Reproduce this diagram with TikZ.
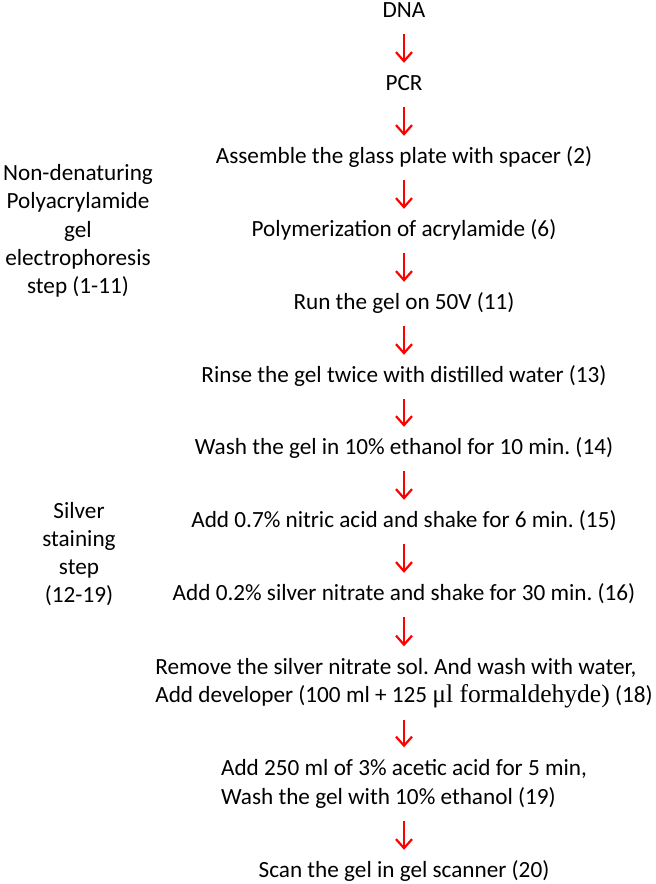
\documentclass[tikz,border=0pt]{standalone}
\usepackage{fontspec}
\setmainfont{Carlito}
\newfontfamily\formfont{Liberation Serif}[Scale=1.1]
\usetikzlibrary{arrows.meta}
\frenchspacing

\begin{document}
\begin{tikzpicture}[x=1pt, y=-1pt,
	every node/.style={font=\fontsize{23.2}{28.3}\selectfont},
	stage/.style={inner sep=0pt, minimum height=44pt, text height=16pt, text depth=5pt},
	twoline/.style={align=left, inner sep=0pt, minimum height=73pt},
	phase/.style={align=center, inner sep=0pt},
	flow/.style={draw=red, line width=2.2pt, -{Straight Barb[length=9pt, width=16pt]}}]
	\useasboundingbox (0,0) rectangle (656,884);

	\node [stage] (1) at (404,12) {DNA};
	\node [stage] (2) at (404,85) {PCR};
	\node [stage] (3) at (404,158) {Assemble the glass plate with spacer (2)};
	\node [stage] (4) at (404,231) {Polymerization of acrylamide (6)};
	\node [stage] (5) at (404,304) {Run the gel on 50V (11)};
	\node [stage] (6) at (404,377) {Rinse the gel twice with distilled water (13)};
	\node [stage] (7) at (404,449) {Wash the gel in 10\% ethanol for 10 min. (14)};
	\node [stage] (8) at (404,522) {Add 0.7\% nitric acid and shake for 6 min. (15)};
	\node [stage] (9) at (404,595) {Add 0.2\% silver nitrate and shake for 30 min. (16)};
	\node [twoline] (10) at (404,683) {Remove the silver nitrate sol. And wash with water,\\
		Add developer (100 ml + 125 {\formfont μl formaldehyde)} (18)};
	\node [twoline] (11) at (404,784) {Add 250 ml of 3\% acetic acid for 5 min,\\
		Wash the gel with 10\% ethanol (19)};
	\node [stage] (12) at (404,872) {Scan the gel in gel scanner (20)};

	\node [phase] (a) at (78,231) {Non-denaturing\\ Polyacrylamide\\ gel\\ electrophoresis\\ step (1-11)};
	\node [phase] (b) at (79,554) {Silver\\ staining\\ step\\ (12-19)};

	\path [flow]
	(1) edge (2)
	(2) edge (3)
	(3) edge (4)
	(4) edge (5)
	(5) edge (6)
	(6) edge (7)
	(7) edge (8)
	(8) edge (9)
	(9) edge (10)
	(10) edge (11)
	(11) edge (12);
\end{tikzpicture}
\end{document}
